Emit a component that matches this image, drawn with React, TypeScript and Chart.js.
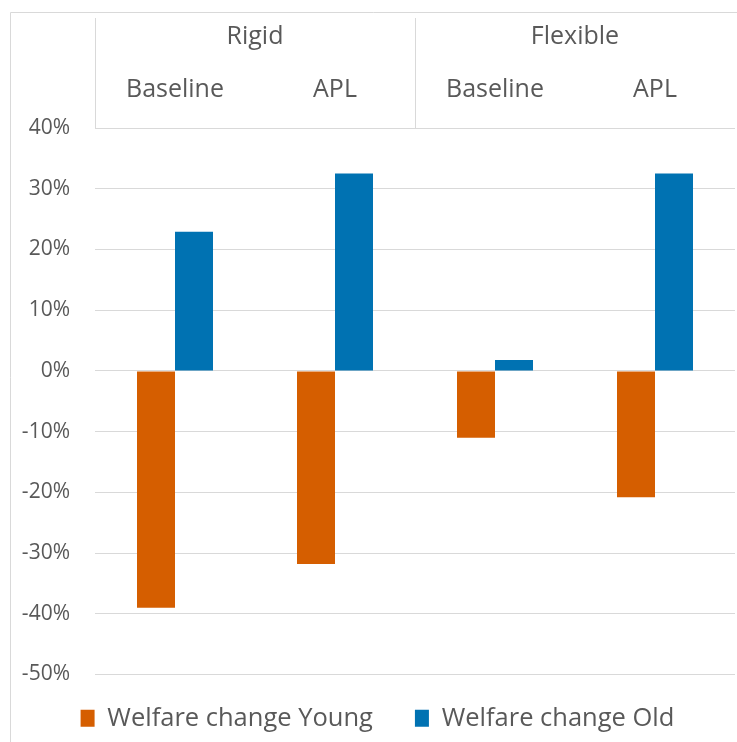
import React, { useEffect, useRef } from "react";
import { Chart, registerables } from "chart.js";

Chart.register(...registerables);

const groups = ["Rigid", "Flexible"];
const groupOfCategory = [0, 0, 1, 1];
const scenarios = ["Baseline", "APL", "Baseline", "APL"];
const youngValues = [-39, -31.8, -11, -20.8];
const oldValues = [22.9, 32.5, 1.8, 32.5];
const seriesNames = ["Welfare change Young", "Welfare change Old"];

const TEXT = "#595959";
const GRID = "#d9d9d9";
const FONT = "'Open Sans', 'DejaVu Sans', sans-serif";

const headerPlugin = {
  id: "header",
  afterLayout(chart: any) {
    const lg = chart.legend;
    if (lg) {
      lg.top -= 11;
      lg.bottom -= 11;
      lg.left += 10;
      lg.right += 10;
    }
  },
  beforeDraw(chart: any) {
    const ctx = chart.ctx;
    ctx.save();
    ctx.strokeStyle = GRID;
    ctx.lineWidth = 1;
    ctx.beginPath();
    ctx.moveTo(10.5, 742);
    ctx.lineTo(10.5, 12.5);
    ctx.lineTo(737, 12.5);
    ctx.stroke();
    ctx.restore();
  },
  afterDraw(chart: any) {
    const ctx = chart.ctx;
    const xs = chart.scales.x;
    const area = chart.chartArea;
    const top = 18;
    ctx.save();
    ctx.strokeStyle = GRID;
    ctx.lineWidth = 1;
    const seps: number[] = [Math.round(area.left) + 0.5];
    for (let i = 1; i < scenarios.length; i++) {
      if (groupOfCategory[i] !== groupOfCategory[i - 1]) {
        const x = (xs.getPixelForValue(i - 1) + xs.getPixelForValue(i)) / 2;
        seps.push(Math.round(x) + 0.5);
      }
    }
    ctx.beginPath();
    for (const x of seps) {
      ctx.moveTo(x, top);
      ctx.lineTo(x, area.top);
    }
    ctx.stroke();
    ctx.fillStyle = TEXT;
    ctx.font = `25px ${FONT}`;
    ctx.textAlign = "center";
    ctx.textBaseline = "middle";
    groups.forEach((g, gi) => {
      const idx = groupOfCategory
        .map((v, i) => (v === gi ? i : -1))
        .filter((i) => i >= 0);
      const x =
        (xs.getPixelForValue(idx[0]) + xs.getPixelForValue(idx[idx.length - 1])) / 2;
      ctx.fillText(g, x, 37);
    });
    scenarios.forEach((s, i) => {
      ctx.fillText(s, xs.getPixelForValue(i), 90);
    });
    ctx.restore();
  },
};

export default function App() {
  const ref = useRef<HTMLCanvasElement | null>(null);
  useEffect(() => {
    if (!ref.current) return;
    const chart = new Chart(ref.current, {
      type: "bar",
      data: {
        labels: scenarios,
        datasets: [
          {
            label: seriesNames[0],
            data: youngValues,
            backgroundColor: "#D55E00",
            categoryPercentage: 0.475,
            barPercentage: 1,
          },
          {
            label: seriesNames[1],
            data: oldValues,
            backgroundColor: "#0072B2",
            categoryPercentage: 0.475,
            barPercentage: 1,
          },
        ],
      },
      options: {
        animation: false,
        responsive: true,
        maintainAspectRatio: false,
        layout: { padding: { top: 128, right: 2, bottom: -10, left: 0 } },
        scales: {
          x: { display: false },
          y: {
            min: -50,
            max: 40,
            afterFit(scale: any) {
              scale.width = 95;
            },
            ticks: {
              stepSize: 10,
              padding: 25,
              color: TEXT,
              font: { family: FONT, size: 21 },
              callback: (v: any) => `${v}%`,
            },
            grid: { color: GRID, lineWidth: 1, drawTicks: false },
            border: { display: false },
          },
        },
        plugins: {
          tooltip: { enabled: false },
          legend: {
            position: "bottom",
            labels: {
              boxWidth: 14,
              boxHeight: 17,
              padding: 42,
              color: TEXT,
              font: { family: FONT, size: 25.5 },
            },
          },
        },
      },
      plugins: [headerPlugin],
    });
    return () => chart.destroy();
  }, []);
  return (
    <div
      style={{
        position: "fixed",
        left: 0,
        top: 0,
        width: 737,
        height: 742,
        background: "#fff",
      }}
    >
      <canvas ref={ref} />
    </div>
  );
}
